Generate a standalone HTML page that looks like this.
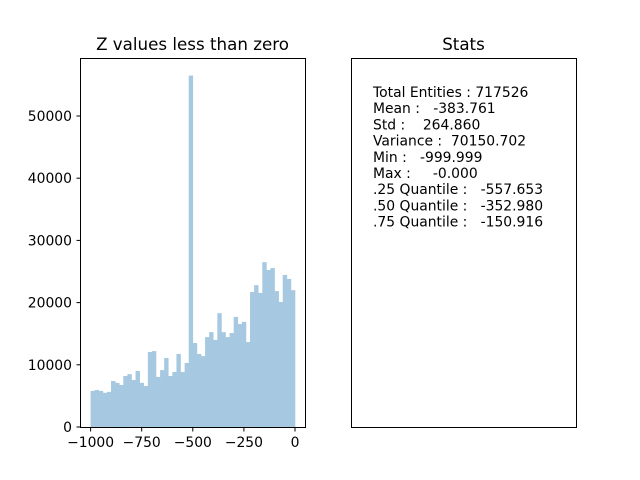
<!DOCTYPE html>
<html><head><meta charset="utf-8"><style>body{margin:0;background:#fff}svg{display:block;font-family:"DejaVu Sans","Liberation Sans",sans-serif}</style></head>
<body>
<svg id="c" width="640" height="480">
<text x="192.5" y="50" font-size="16.7" text-anchor="middle">Z values less than zero</text>
<text x="463.5" y="50" font-size="16.7" text-anchor="middle">Stats</text>
<g id="bars"></g>
<rect x="80.5" y="58.5" width="225" height="369" fill="none" stroke="#000"/>
<g id="ticks"></g>
<rect x="351.5" y="58.5" width="225" height="369" fill="none" stroke="#000"/>
<g id="stats" font-size="13.9"></g>
</svg>
<script>
const binStart=-1000, binWidth=20;
const counts=[5800,5950,5800,5500,5650,7400,7100,6750,8200,8500,7550,9000,7100,6600,12050,12200,8050,9150,11100,8200,8850,11750,8850,10300,56500,13500,11750,11400,14450,15250,14000,18300,15250,14450,15100,17700,16550,16900,13650,21700,22800,21550,26500,25250,25550,21850,20100,24450,23800,22000];
const xTicks=[-1000,-750,-500,-250,0];
const yTicks=[0,10000,20000,30000,40000,50000];
const statLines=["Total Entities : 717526","Mean :   -383.761","Std :    264.860","Variance :  70150.702","Min :   -999.999","Max :     -0.000",".25 Quantile :   -557.653",".50 Quantile :   -352.980",".75 Quantile :   -150.916"];
const NS="http://www.w3.org/2000/svg";
const X=v=>90.6+(v+1000)*0.2044, Y=v=>427-v*0.00622;
const bars=document.getElementById('bars');
counts.forEach((c,i)=>{const r=document.createElementNS(NS,'rect');


const x0=X(binStart+i*binWidth),x1=X(binStart+(i+1)*binWidth);
r.setAttribute('x',x0);r.setAttribute('width',x1-x0+0.3);r.setAttribute('y',Y(c));r.setAttribute('height',427-Y(c));r.setAttribute('fill','#a6c8e0');bars.appendChild(r);});
const tg=document.getElementById('ticks');
xTicks.forEach(t=>{const l=document.createElementNS(NS,'line');


l.setAttribute('x1',X(t));l.setAttribute('x2',X(t));l.setAttribute('y1',428);l.setAttribute('y2',431.5);l.setAttribute('stroke','#000');tg.appendChild(l);
const s=document.createElementNS(NS,'text');


s.setAttribute('x',X(t));s.setAttribute('y',447);s.setAttribute('font-size','13.9');s.setAttribute('text-anchor','middle');s.textContent=t<0?'\u2212'+(-t):t;tg.appendChild(s);});
yTicks.forEach(t=>{const l=document.createElementNS(NS,'line');


l.setAttribute('x1',76.5);l.setAttribute('x2',80);l.setAttribute('y1',Y(t));l.setAttribute('y2',Y(t));l.setAttribute('stroke','#000');tg.appendChild(l);
const s=document.createElementNS(NS,'text');


s.setAttribute('x',72);s.setAttribute('y',Y(t)+5);s.setAttribute('font-size','13.9');s.setAttribute('text-anchor','end');s.textContent=t;tg.appendChild(s);});
const sg=document.getElementById('stats');
statLines.forEach((t,i)=>{const s=document.createElementNS(NS,'text');


s.setAttribute('x',373);s.setAttribute('y',97+i*16.2);s.setAttribute('xml:space','preserve');s.style.whiteSpace='pre';s.textContent=t;sg.appendChild(s);});
</script>
</body></html>
